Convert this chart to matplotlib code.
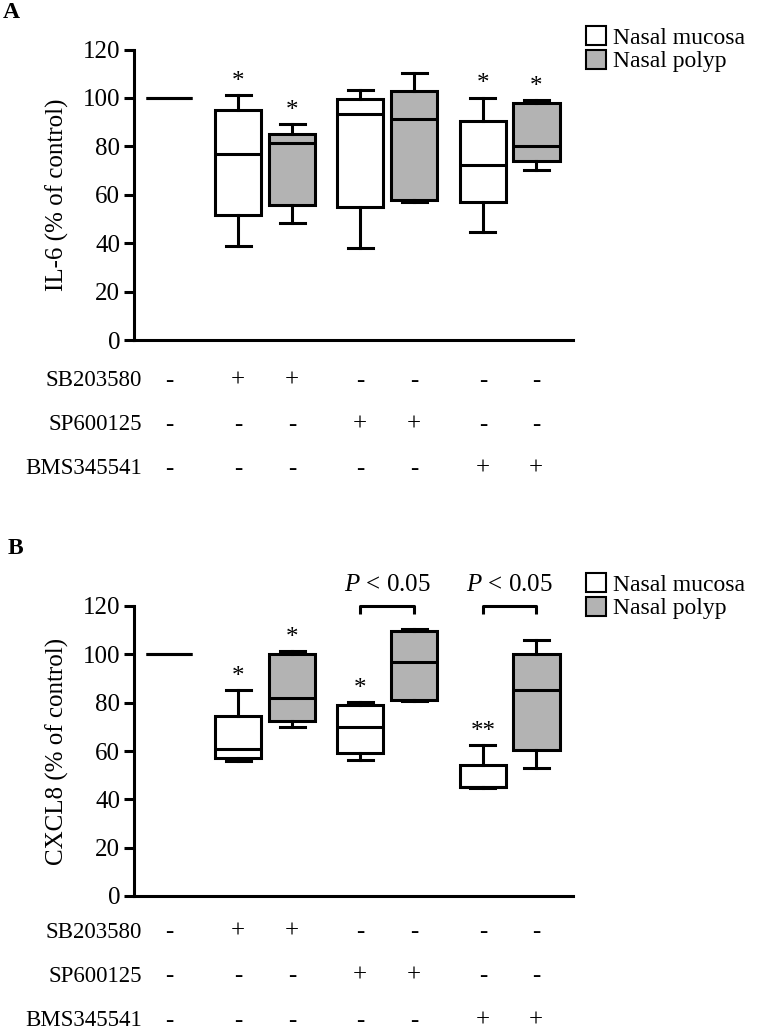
import matplotlib
matplotlib.use("Agg")
import matplotlib.pyplot as plt
from matplotlib.patches import Patch
from matplotlib.transforms import blended_transform_factory

plt.rcParams['font.family'] = ['Liberation Serif', 'DejaVu Serif']
plt.rcParams['font.size'] = 16
plt.rcParams['mathtext.fontset'] = 'custom'
plt.rcParams['mathtext.rm'] = 'Liberation Serif'
plt.rcParams['mathtext.it'] = 'Liberation Serif:italic'

# box stats per condition: control, SB mucosa, SB polyp, SP mucosa, SP polyp, BMS mucosa, BMS polyp
# each row: whislo, q1, med, q3, whishi
il6_stats = [
    [100, 100, 100, 100, 100],
    [39, 51.5, 77, 95, 101],
    [48.5, 55.7, 81.4, 85, 89.2],
    [38, 55, 93.3, 99.5, 103.2],
    [57, 58, 91.3, 102.8, 110.4],
    [44.7, 56.8, 72.2, 90.3, 100.1],
    [70.2, 74, 80.3, 97.9, 99.2],
]
cxcl8_stats = [
    [100, 100, 100, 100, 100],
    [55.8, 57.2, 60.9, 74.6, 85.2],
    [69.8, 72.6, 81.9, 100, 101.2],
    [56.1, 59.1, 70.1, 79, 80.3],
    [80.5, 81.1, 96.9, 109.7, 110.4],
    [44.8, 45.2, 45.0, 54.3, 62.3],
    [53, 60.5, 85.2, 100.3, 105.8],
]
il6_sig = ['', '*', '*', '', '', '*', '*']
cxcl8_sig = ['', '*', '*', '*', '', '**', '']
cxcl8_pairs = [(3, 4), (5, 6)]
pair_label = '$\\mathit{P}$ < 0.05'

treatments = ['SB203580', 'SP600125', 'BMS345541']
signs = [
    ['-', '+', '+', '-', '-', '-', '-'],
    ['-', '-', '-', '+', '+', '-', '-'],
    ['-', '-', '-', '-', '-', '+', '+'],
]
groups = ['control', 'mucosa', 'polyp', 'mucosa', 'polyp', 'mucosa', 'polyp']
fills = {'control': 'white', 'mucosa': 'white', 'polyp': '#b3b3b3'}

positions = [0, 1.28, 2.28, 3.54, 4.54, 5.81, 6.80]

fig = plt.figure(figsize=(7.59, 10.30), dpi=100)
W, H = 759, 1030


def panel(bottom_px, top_px, stats, sig, ylabel, pairs, row_y, letter, letter_xy, legend_y):
    ax = fig.add_axes([134 / W, 1 - bottom_px / H, (573 - 134) / W, (bottom_px - top_px) / H])
    bx = []
    for i, s in enumerate(stats):
        bx.append(dict(whislo=s[0], q1=s[1], med=s[2], q3=s[3], whishi=s[4], fliers=[], label=''))
    art = ax.bxp(bx, positions=positions, widths=0.86, capwidths=0.46, patch_artist=True,
                 showfliers=False,
                 boxprops=dict(linewidth=2.2, edgecolor='black'),
                 medianprops=dict(color='black', linewidth=2.2),
                 whiskerprops=dict(linewidth=2.2, color='black'),
                 capprops=dict(linewidth=2.2, color='black'))
    for patch, g in zip(art['boxes'], groups):
        patch.set_facecolor(fills[g])
    # control is a single line at 100
    for k in (0, 1):
        art['whiskers'][k].set_visible(False)
        art['caps'][k].set_visible(False)

    for p, s, mark in zip(positions, stats, sig):
        if mark:
            ax.text(p, s[4] + 5.5, mark, ha='center', va='center', fontsize=18)

    for a, b in pairs:
        y0 = 116.6
        y1 = 119.8
        ax.plot([positions[a], positions[a], positions[b], positions[b]], [y0, y1, y1, y0],
                color='black', lw=2.2, clip_on=False, solid_capstyle='butt')
        ax.text((positions[a] + positions[b]) / 2, 128.5, pair_label, ha='center', va='center',
                fontsize=18, clip_on=False)

    ax.set_ylim(0, 120)
    ax.set_xlim(-0.65, 7.48)
    ax.set_yticks(range(0, 121, 20))
    ax.set_xticks([])
    for side in ['top', 'right']:
        ax.spines[side].set_visible(False)
    for side in ['left', 'bottom']:
        ax.spines[side].set_linewidth(2.2)
    ax.tick_params(axis='y', length=7, width=2.2, labelsize=18, pad=3)
    ax.set_ylabel(ylabel, fontsize=18, labelpad=10)

    tr = blended_transform_factory(ax.transData, fig.transFigure)
    for name, row, ry in zip(treatments, signs, row_y):
        fig.text(142 / W, 1 - ry / H, name, ha='right', va='center', fontsize=16.5)
        for p, sgn in zip(positions, row):
            ax.text(p, 1 - ry / H, sgn, ha='center', va='center', fontsize=18, transform=tr)

    fig.text(letter_xy[0] / W, 1 - letter_xy[1] / H, letter, ha='center', va='center',
             fontsize=17, fontweight='bold')

    handles = [Patch(facecolor='white', edgecolor='black', linewidth=1.5),
               Patch(facecolor='#b3b3b3', edgecolor='black', linewidth=1.5)]
    fig.legend(handles, ['Nasal mucosa', 'Nasal polyp'], loc='upper left',
               bbox_to_anchor=(586 / W, 1 - legend_y / H), frameon=False, fontsize=17,
               handlelength=0.85, handleheight=0.85, handletextpad=0.3, labelspacing=0.05,
               borderpad=0, borderaxespad=0)
    return ax


panel(340, 49.5, il6_stats, il6_sig, 'IL-6 (% of control)', [], [381, 425, 469], 'A', (11, 12), 26)
panel(896, 606, cxcl8_stats, cxcl8_sig, 'CXCL8 (% of control)', cxcl8_pairs, [932, 976, 1021], 'B', (15, 548), 573)

fig.savefig('out.png', dpi=100)
